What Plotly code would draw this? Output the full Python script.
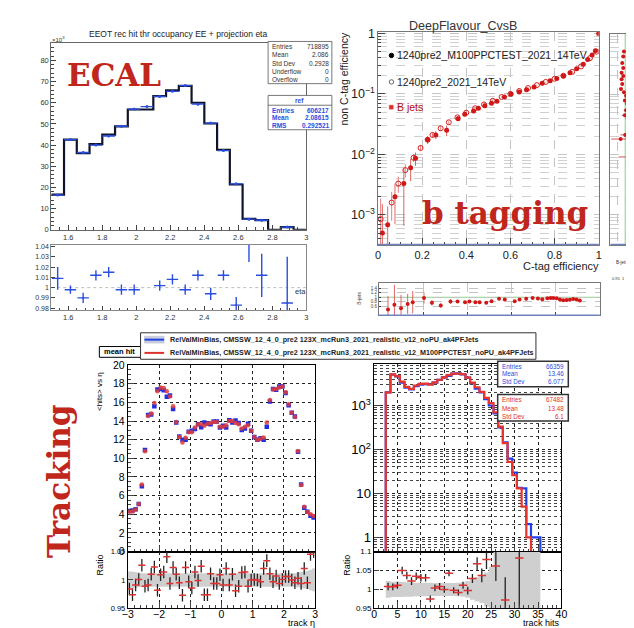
import numpy as np
import plotly.graph_objects as go

W, H = 634, 628
def px(x): return x / W
def py(y): return 1 - y / H

SANS = "Liberation Sans, Arial, Helvetica, sans-serif"
SERIF = "DejaVu Serif, serif"
RED_TXT = "#c0261b"
BLUE = "#2a4ee0"
RED = "#e0302a"

# ---------------- ECAL ----------------
ecal_range = [1.5, 3.0]
ecal_new = [16.6, 42.6, 36.2, 40.5, 44.9, 48.8, 56.8, 56.8, 63.1, 65.8, 68.0, 60.0, 50.2, 37.8, 21.4, 5.2, 4.6, 0.0, 1.3, 0.0]
ecal_ref = [16.4, 42.6, 36.5, 40.0, 44.3, 48.9, 57.0, 58.2, 63.0, 65.4, 68.1, 59.3, 50.4, 37.4, 21.7, 5.0, 4.5, None, 1.3, None]
ecal_ratio = [1.009, 0.998, 0.990, 1.012, 1.015, 0.998, 0.998, 0.972, 1.002, 1.008, 0.998, 1.012, 0.994, 1.012, 0.983, 1.050, 1.012, None, 0.985, None]
ecal_ratio_err = [0.011, 0.004, 0.005, 0.005, 0.005, 0.005, 0.005, 0.006, 0.005, 0.005, 0.005, 0.005, 0.006, 0.005, 0.008, 0.025, 0.021, None, 0.045, None]
ecal_xticks = [1.6, 1.8, 2.0, 2.2, 2.4, 2.6, 2.8, 3.0]
ecal_rticks = [0.98, 0.99, 1.0, 1.01, 1.02, 1.03, 1.04]
ecal_stats = [("Entries", "718895"), ("Mean", "2.086"), ("Std Dev", "0.2928"), ("Underflow", "0"), ("Overflow", "0")]
ecal_ref_stats = [("Entries", "606217"), ("Mean", "2.08615"), ("RMS", "0.292521")]

# ---------------- b tagging ----------------
btag_x_new = [0.020, 0.044, 0.077, 0.117, 0.148, 0.170, 0.225, 0.262, 0.311, 0.363, 0.393, 0.433, 0.455, 0.484, 0.514, 0.539,
              0.573, 0.603, 0.640, 0.673, 0.707, 0.744, 0.780, 0.810, 0.840, 0.870, 0.900, 0.930, 0.950, 0.970, 0.985, 1.0]
btag_y_new = [5.0e-4, 6.9e-4, 2.0e-3, 3.3e-3, 6.0e-3, 8.6e-3, 0.0175, 0.021, 0.025, 0.039, 0.046, 0.052, 0.058, 0.064, 0.070, 0.076,
              0.089, 0.100, 0.108, 0.117, 0.130, 0.150, 0.165, 0.180, 0.198, 0.225, 0.260, 0.310, 0.370, 0.440, 0.520, 1.0]
btag_err_new = [2.0, 1.0, 0.65, 0.8, 0.4, 0.25, 0.15, 0.15, 0.2, 0.08, 0.07, 0.06, 0.05, 0.05, 0.05, 0.05,
                0.04, 0.04, 0.04, 0.04, 0.03, 0.03, 0.03, 0.03, 0.03, 0.02, 0.02, 0.02, 0.02, 0.02, 0.02, 0.0]
btag_x_ref = [0.012, 0.062, 0.092, 0.124, 0.161, 0.193, 0.225, 0.247, 0.284, 0.321, 0.36, 0.40, 0.44, 0.48, 0.52, 0.56,
              0.60, 0.64, 0.68, 0.72, 0.76, 0.80, 0.84, 0.88, 0.92, 0.96, 0.99]
btag_y_ref = [8.5e-4, 1.6e-3, 3.3e-3, 5.5e-3, 8.8e-3, 0.0128, 0.0175, 0.021, 0.027, 0.034, 0.041, 0.049, 0.058, 0.067, 0.077, 0.089,
              0.100, 0.112, 0.125, 0.140, 0.158, 0.178, 0.200, 0.232, 0.285, 0.390, 0.500]
btag_err_ref = [1.2, 0.5, 0.3, 0.25, 0.15, 0.12, 0.1, 0.1, 0.08, 0.07, 0.05, 0.05, 0.04, 0.04, 0.04, 0.03,
                0.03, 0.03, 0.03, 0.02, 0.02, 0.02, 0.02, 0.02, 0.02, 0.02, 0.02]
btag_ratio_x = [0.041, 0.070, 0.100, 0.130, 0.153, 0.204, 0.240, 0.280, 0.324, 0.356, 0.390, 0.410, 0.437, 0.456, 0.486, 0.510,
                0.544, 0.570, 0.615, 0.637, 0.667, 0.696, 0.720, 0.740, 0.763, 0.778, 0.790, 0.805, 0.820, 0.835, 0.850,
                0.865, 0.880, 0.895, 0.910]
btag_ratio_y = [0.45, 0.66, 0.51, 0.70, 0.78, 0.97, 0.75, 0.63, 0.81, 0.81, 0.78, 0.81, 0.78, 0.78, 0.75, 0.82,
                0.93, 0.90, 0.82, 0.90, 0.93, 0.97, 0.94, 0.91, 0.96, 0.97, 0.97, 0.96, 0.90, 0.87, 0.88,
                0.89, 0.92, 0.90, 0.86]
btag_ratio_err = [0.6, 0.9, 0.6, 0.45, 0.5, 0.25, 0.12, 0.1, 0.1, 0.06, 0.05, 0.05, 0.05, 0.04, 0.04, 0.04,
                  0.04, 0.04, 0.03, 0.03, 0.03, 0.03, 0.03, 0.03, 0.02, 0.02, 0.02, 0.02, 0.02, 0.02, 0.02,
                  0.02, 0.02, 0.02, 0.02]
cut_eff = [0.505, 0.419, 0.327, 0.271, 0.225, 0.199, 0.175, 0.146, 0.121, 0.107, 0.094, 0.078, 0.069, 0.061, 0.054,
           0.050, 0.0446, 0.039, 0.0211, 0.018, 0.0211, 0.0091]
cut_ratio = [0.992, 0.9875, 0.981, 0.9875, 0.977, 0.9875, 0.977, 0.981, 0.973, 0.992, 1.006, 0.998, 1.0125, 1.023, 1.006,
             1.033, 0.998, 1.019, 1.0, 0.971, 1.044, 1.029]
cut_err = [0.005, 0.005, 0.006, 0.006, 0.007, 0.007, 0.008, 0.008, 0.01, 0.01, 0.012, 0.012, 0.015, 0.015, 0.015,
           0.02, 0.02, 0.02, 0.03, 0.06, 0.03, 0.07]

# ---------------- Tracking: hits vs eta ----------------
eta_range = [-3.0, 3.0]
eta_red = [4.3, 4.3, 4.5, 5.1, 7.2, 10.75, 14.55, 14.8, 15.95, 17.2, 17.6, 17.55, 17.2, 16.65, 15.6, 13.9, 12.3, 11.7, 12.2, 12.8,
           12.8, 13.3, 13.65, 13.65, 13.5, 13.7, 13.8, 13.9, 13.9, 13.4, 13.4, 13.55, 14.0, 14.0, 13.8, 13.65, 13.2, 13.4, 13.55, 12.95,
           12.3, 12.0, 12.1, 12.25, 13.85, 16.25, 17.4, 17.45, 17.6, 17.7, 17.1, 15.8, 14.9, 14.45, 10.75, 7.15, 4.8, 4.25, 4.0, 3.8]
eta_blue = [4.35, 4.4, 4.55, 5.1, 7.0, 10.9, 14.65, 14.7, 15.6, 17.4, 17.45, 17.3, 16.6, 16.75, 15.3, 13.85, 12.35, 12.0, 12.0, 12.85,
            12.95, 13.15, 13.65, 13.35, 13.85, 13.75, 13.65, 13.95, 13.95, 13.3, 13.5, 13.3, 14.1, 13.85, 14.05, 13.8, 13.05, 13.2, 13.7, 12.95,
            12.3, 12.0, 12.15, 12.0, 13.4, 16.1, 17.45, 17.35, 17.7, 17.7, 17.0, 15.7, 14.9, 14.5, 10.72, 7.2, 4.7, 4.27, 3.83, 3.65]
eta_ratio = [0.984, 0.974, 0.991, 1.001, 1.026, 0.989, 0.991, 1.010, 1.023, 0.982, 1.009, 1.014, 1.041, 0.994, 1.022, 1.010, 0.995, 0.973, 1.022, 0.997,
             0.986, 1.014, 0.999, 1.024, 0.974, 0.974, 1.011, 0.994, 0.994, 1.009, 0.991, 1.020, 0.991, 1.010, 0.981, 0.989, 1.013, 1.014, 0.989, 1.000,
             1.001, 1.000, 0.997, 1.020, 1.034, 1.011, 0.997, 1.007, 0.994, 1.001, 1.006, 1.006, 1.000, 0.995, 1.003, 0.994, 1.020, 0.995, 1.045, 1.050]
eta_band = [0.015, 0.015, 0.014, 0.013, 0.012, 0.012, 0.012, 0.012, 0.012, 0.012, 0.012, 0.012, 0.012, 0.012, 0.012, 0.012, 0.012, 0.012, 0.012, 0.012,
            0.012, 0.012, 0.012, 0.012, 0.012, 0.012, 0.012, 0.012, 0.012, 0.012, 0.012, 0.012, 0.012, 0.012, 0.012, 0.012, 0.012, 0.012, 0.012, 0.012,
            0.012, 0.012, 0.012, 0.012, 0.012, 0.012, 0.012, 0.012, 0.012, 0.012, 0.012, 0.012, 0.012, 0.012, 0.013, 0.014, 0.015, 0.016, 0.018, 0.02]

# ---------------- Tracking: track hits ----------------
hits_first_bin = 3
hits_red = [2000, 5100, 4650, 3500, 2650, 2380, 2850, 3100, 3150, 3000, 3350, 3850, 4350, 4900, 5300, 5350, 5150, 4300, 3300,
            2600, 2050, 1500, 1130, 700, 330, 140, 52, 26, 13, 5, 1, 0, 0]
hits_blue = [1985, 5060, 4600, 3330, 2560, 2330, 2750, 3000, 3050, 3080, 3330, 3820, 4350, 4700, 5310, 5390, 5090, 4310, 3210,
             2430, 1980, 1390, 1000, 660, 320, 145, 62, 30, 13.5, 13, 2, 1, 1]
hits_ratio_x = [3, 4, 5, 6, 7, 8, 9, 10, 11, 12, 13, 14, 15, 16, 17, 18, 19, 20, 21, 22, 23, 24, 26, 28, 31]
hits_ratio_y = [1.008, 1.007, 1.011, 1.050, 1.037, 1.022, 1.035, 1.031, 1.031, 0.975, 1.004, 1.008, 1.000, 1.043, 0.998, 0.992,
                1.011, 0.997, 1.029, 1.068, 1.037, 1.079, 1.062, 0.972, 1.083]
hits_ratio_err = [0.010, 0.009, 0.009, 0.010, 0.010, 0.010, 0.010, 0.010, 0.010, 0.009, 0.009, 0.009, 0.009, 0.008, 0.008, 0.008,
                  0.009, 0.010, 0.012, 0.017, 0.018, 0.025, 0.040, 0.060, 0.150]
hits_band = [0.022, 0.020, 0.020, 0.020, 0.019, 0.019, 0.018, 0.018, 0.018, 0.017, 0.017, 0.017, 0.017, 0.017, 0.017, 0.018, 0.019,
             0.022, 0.027, 0.032, 0.036, 0.045, 0.06, 0.1, 0.1, 0.1, 0.1, 0.1, 0.1, 0.1, 0.1, 0.1, 0.1]
hits_stats_blue = [("Entries", "66359"), ("Mean", "13.46"), ("Std Dev", "6.077")]
hits_stats_red = [("Entries", "67482"), ("Mean", "13.48"), ("Std Dev", "6.1")]
legend_labels = ["RelValMinBias, CMSSW_12_4_0_pre2 123X_mcRun3_2021_realistic_v12_noPU_ak4PFJets",
                 "RelValMinBias, CMSSW_12_4_0_pre2 123X_mcRun3_2021_realistic_v12_M100PPCTEST_noPU_ak4PFJets"]

fig = go.Figure()

# ECAL traces
ecal_edges = np.linspace(ecal_range[0], ecal_range[1], len(ecal_new) + 1)
ecal_centers = (ecal_edges[:-1] + ecal_edges[1:]) / 2
ecal_half = (ecal_edges[1] - ecal_edges[0]) / 2
fig.add_trace(go.Scatter(x=ecal_edges, y=ecal_new + [ecal_new[-1]], mode="lines",
                         line=dict(shape="hv", color="#10142a", width=2.2), xaxis="x", yaxis="y"))
fig.add_trace(go.Scatter(x=ecal_centers, y=ecal_ref, mode="markers", marker=dict(size=3, color=BLUE),
                         error_x=dict(type="constant", value=ecal_half, color=BLUE, thickness=1.3, width=0),
                         error_y=dict(type="constant", value=0.4, color=BLUE, thickness=1, width=0),
                         xaxis="x", yaxis="y"))
fig.add_trace(go.Scatter(x=ecal_centers, y=ecal_ratio, mode="markers", marker=dict(size=2, color=BLUE),
                         error_x=dict(type="constant", value=ecal_half * 0.9, color=BLUE, thickness=1.4, width=0),
                         error_y=dict(type="data", array=ecal_ratio_err, color=BLUE, thickness=1.4, width=0),
                         xaxis="x2", yaxis="y2"))

# b tagging traces
ynew = np.array(btag_y_new); enew = np.array(btag_err_new)
fig.add_trace(go.Scatter(x=btag_x_ref, y=btag_y_ref, mode="markers",
                         marker=dict(symbol="circle-open", size=5, color="#d42020", line=dict(width=1)),
                         error_y=dict(type="data", array=list(np.array(btag_y_ref) * np.array(btag_err_ref)),
                                      arrayminus=list(np.array(btag_y_ref) * np.minimum(np.array(btag_err_ref), 0.97)),
                                      color="#e06060", thickness=0.8, width=0),
                         xaxis="x3", yaxis="y3"))
fig.add_trace(go.Scatter(x=btag_x_new, y=btag_y_new, mode="markers",
                         marker=dict(symbol="circle", size=5, color="#d01818"),
                         error_y=dict(type="data", array=list(ynew * enew), arrayminus=list(ynew * np.minimum(enew, 0.97)),
                                      color="#d84040", thickness=0.8, width=0),
                         error_x=dict(type="constant", value=0.008, color="#d84040", thickness=0.8, width=0),
                         xaxis="x3", yaxis="y3"))
fig.add_trace(go.Scatter(x=btag_ratio_x, y=btag_ratio_y, mode="markers", marker=dict(size=4, color="#d01818"),
                         error_y=dict(type="data", array=btag_ratio_err, color="#d84040", thickness=0.8, width=0),
                         xaxis="x4", yaxis="y4"))
fig.add_trace(go.Scatter(x=cut_ratio, y=cut_eff, mode="markers", marker=dict(size=4, color="#d01818"),
                         error_x=dict(type="data", array=cut_err, color="#e05050", thickness=1, width=0),
                         xaxis="x5", yaxis="y5"))

# Tracking eta traces
eta_edges = np.linspace(eta_range[0], eta_range[1], len(eta_red) + 1)
eta_centers = (eta_edges[:-1] + eta_edges[1:]) / 2
eta_b = np.array(eta_band)
fig.add_trace(go.Scatter(x=eta_edges, y=list(1 - eta_b) + [1 - eta_b[-1]], mode="lines", line=dict(shape="hv", width=0, color="#c8c8c8"),
                         xaxis="x7", yaxis="y7"))
fig.add_trace(go.Scatter(x=eta_edges, y=list(1 + eta_b) + [1 + eta_b[-1]], mode="lines", line=dict(shape="hv", width=0, color="#c8c8c8"),
                         fill="tonexty", fillcolor="#cfcfcf", xaxis="x7", yaxis="y7"))
fig.add_trace(go.Scatter(x=eta_centers, y=eta_blue, mode="markers", marker=dict(symbol="square", size=4.5, color="#2030e0"),
                         xaxis="x6", yaxis="y6"))
fig.add_trace(go.Scatter(x=eta_centers, y=eta_red, mode="markers", marker=dict(symbol="circle", size=4.5, color="#e03a3a", opacity=0.85),
                         xaxis="x6", yaxis="y6"))
fig.add_trace(go.Scatter(x=eta_centers, y=eta_ratio, mode="markers",
                         marker=dict(symbol="line-ew", size=5, line=dict(color="#e03030", width=1.5)),
                         error_y=dict(type="constant", value=0.011, color="#222", thickness=1.3, width=0),
                         xaxis="x7", yaxis="y7", cliponaxis=True))

# Tracking hits traces
nb = len(hits_red)
hits_edges = np.arange(hits_first_bin - 0.5, hits_first_bin + nb + 0.5, 1.0)
def logsafe(v): return [x if x > 0 else 1e-3 for x in v]
hb = np.array(hits_band)
fig.add_trace(go.Scatter(x=hits_edges, y=list(1 - hb) + [1 - hb[-1]], mode="lines", line=dict(shape="hv", width=0, color="#c8c8c8"),
                         xaxis="x9", yaxis="y9"))
fig.add_trace(go.Scatter(x=hits_edges, y=list(1 + hb) + [1 + hb[-1]], mode="lines", line=dict(shape="hv", width=0, color="#c8c8c8"),
                         fill="tonexty", fillcolor="#cfcfcf", xaxis="x9", yaxis="y9"))
fig.add_trace(go.Scatter(x=[hits_edges[0]] + list(hits_edges), y=[1e-3] + logsafe(hits_blue) + [1e-3], mode="lines",
                         line=dict(shape="hv", color="#1f3ff0", width=2.2), xaxis="x8", yaxis="y8"))
fig.add_trace(go.Scatter(x=[hits_edges[0]] + list(hits_edges), y=[1e-3] + logsafe(hits_red) + [1e-3], mode="lines",
                         line=dict(shape="hv", color="#e8342c", width=2.2), xaxis="x8", yaxis="y8"))
fig.add_trace(go.Scatter(x=hits_ratio_x, y=hits_ratio_y, mode="markers",
                         marker=dict(symbol="line-ew", size=6, line=dict(color="#e03030", width=1.5)),
                         error_y=dict(type="data", array=hits_ratio_err, color="#222", thickness=1.3, width=0),
                         xaxis="x9", yaxis="y9"))

# -------- axes --------
def ax(domain, rng, anchor, **kw):
    d = dict(domain=domain, range=rng, anchor=anchor, showline=True, mirror=True, linecolor="black", linewidth=1,
             ticks="inside", showgrid=False, zeroline=False,
             tickfont=dict(family=SANS, size=10, color="black"))
    d.update(kw)
    return d

dotgrid = dict(showgrid=True, gridcolor="#222", griddash="dot", gridwidth=1)
dashgrid = dict(showgrid=True, gridcolor="#c4c4c4", griddash="dash", gridwidth=0.8)

layout = dict(
    width=W, height=H, margin=dict(l=0, r=0, t=0, b=0, pad=0),
    paper_bgcolor="white", plot_bgcolor="white", showlegend=False,
    xaxis=ax([px(38), px(298)], ecal_range, "y", tickmode="array", tickvals=ecal_xticks, ticklen=5, linecolor="#666",
             tickfont=dict(family=SANS, size=7.5, color="#333"), minor=dict(dtick=0.05, tick0=1.5, ticklen=3, ticks="inside")),
    yaxis=ax([py(220), py(30)], [0, 88], "x", dtick=10, tick0=0, ticklen=5, linecolor="#666",
             tickfont=dict(family=SANS, size=7.5, color="#333"), minor=dict(dtick=2, ticklen=3, ticks="inside")),
    xaxis2=ax([px(38), px(298)], ecal_range, "y2", tickmode="array", tickvals=ecal_xticks, ticklen=4, linecolor="#888",
              tickfont=dict(family=SANS, size=7.5, color="#333"), minor=dict(dtick=0.05, tick0=1.5, ticklen=2, ticks="inside")),
    yaxis2=ax([py(302), py(235)], [0.978, 1.042], "x2", tickmode="array", tickvals=ecal_rticks, ticklen=4, linecolor="#888",
              tickfont=dict(family=SANS, size=7, color="#333")),
    xaxis3=ax([px(371), px(596)], [0, 1], "y3", dtick=0.2, ticklen=7, linecolor="#777",
              tickfont=dict(family=SANS, size=11, color="#222"), minor=dict(dtick=0.05, ticklen=3, ticks="inside"), **dashgrid),
    yaxis3=ax([py(235), py(18)], [-3.49, 0.03], "x3", type="log", dtick=1, exponentformat="power", ticklen=7, linecolor="#777",
              tickfont=dict(family=SANS, size=10, color="#222"),
              minor=dict(dtick="D1", ticklen=3, ticks="inside", showgrid=True, gridcolor="#d0d0d0", griddash="dash", gridwidth=0.7),
              **dashgrid),
    xaxis4=ax([px(372), px(597)], [0, 1], "y4", dtick=0.2, showticklabels=False, ticklen=3, linecolor="#777", **dashgrid),
    yaxis4=ax([py(307), py(274)], [0.2, 1.65], "x4", tickmode="array", tickvals=[0.6, 0.8, 1.0, 1.2, 1.4], ticklen=2,
              linecolor="#777", tickfont=dict(family=SANS, size=4.5, color="#444"), **dashgrid),
    xaxis5=ax([px(608), 1.0], [0.906, 1.069], "y5", dtick=0.05, showticklabels=False, ticks="", linecolor="#777", **dashgrid),
    yaxis5=ax([py(235), py(20)], [-3.49, 0.0], "x5", type="log", dtick=1, showticklabels=False, ticks="", mirror=False,
              linecolor="#777", minor=dict(dtick="D1", showgrid=True, gridcolor="#d0d0d0", griddash="dash", gridwidth=0.7), **dashgrid),
    xaxis6=ax([px(116), px(307)], eta_range, "y6", dtick=1, showticklabels=False, ticklen=6,
              minor=dict(dtick=0.2, ticklen=3, ticks="inside"), **dotgrid),
    yaxis6=ax([py(548), py(358)], [0, 20], "x6", dtick=2, ticklen=6, tickfont=dict(family=SANS, size=10.5, color="black"),
              minor=dict(dtick=0.5, ticklen=3, ticks="inside"), **dotgrid),
    xaxis7=ax([px(116), px(307)], eta_range, "y7", dtick=1, ticklen=6, tickfont=dict(family=SANS, size=10.5, color="black"),
              ticklabelstandoff=-4, minor=dict(dtick=0.2, ticklen=3, ticks="inside"), **dotgrid),
    yaxis7=ax([py(606), py(548)], [0.95, 1.05], "x7", tickmode="array", tickvals=[0.95, 1.0, 1.05], ticktext=["0.95", "1", "1.05"],
              ticklen=5, tickfont=dict(family=SANS, size=7.5, color="black"), **dotgrid),
    xaxis8=ax([px(367), px(558)], [0, 40], "y8", dtick=5, showticklabels=False, ticklen=6,
              minor=dict(dtick=1, ticklen=3, ticks="inside"), **dotgrid),
    yaxis8=ax([py(548), py(357)], [-0.32, 3.94], "x8", type="log", dtick=1, exponentformat="power", ticklen=6,
              tickfont=dict(family=SANS, size=10.5, color="black"),
              minor=dict(dtick="D1", ticklen=3, ticks="inside", showgrid=True, gridcolor="#444", griddash="dot", gridwidth=0.8),
              **dotgrid),
    xaxis9=ax([px(367), px(558)], [0, 40], "y9", dtick=5, ticklen=6, tickfont=dict(family=SANS, size=10.5, color="black"),
              ticklabelstandoff=-4, minor=dict(dtick=1, ticklen=3, ticks="inside"), **dotgrid),
    yaxis9=ax([py(606), py(548)], [0.95, 1.1], "x9", tickmode="array", tickvals=[0.95, 1.0, 1.05, 1.1],
              ticktext=["0.95", "1", "1.05", "1.1"], ticklen=5, tickfont=dict(family=SANS, size=8, color="black"), **dotgrid),
)

# -------- annotations & shapes --------
ann = []
shp = []
def txt(x, y, s, size=10, color="black", xa="left", ya="middle", family=SANS, angle=0):
    ann.append(dict(x=px(x), y=py(y), xref="paper", yref="paper", text=s, showarrow=False, xanchor=xa, yanchor=ya,
                    textangle=angle, borderpad=0, font=dict(family=family, size=size, color=color)))
def rect(x0, y0, x1, y1, line="black", fill="white", w=1):
    shp.append(dict(type="rect", xref="paper", yref="paper", x0=px(x0), x1=px(x1), y0=py(y1), y1=py(y0),
                    line=dict(color=line, width=w), fillcolor=fill, layer="above"))
def hline(x0, x1, y, color, w=1):
    shp.append(dict(type="line", xref="paper", yref="paper", x0=px(x0), x1=px(x1), y0=py(y), y1=py(y),
                    line=dict(color=color, width=w), layer="above"))

# ECAL
txt(167, 20, "EEOT rec hit thr occupancy EE + projection eta", size=8.5, color="#222", xa="center")
txt(38, 31, "×10<sup>3</sup>", size=6, color="#333", xa="left", ya="bottom")
txt(53, 62, "<b>ECAL</b>", size=31, color=RED_TXT, family=SERIF)
rect(259, 28, 324, 71, line="#555", w=0.8)
for i, (k, v) in enumerate(ecal_stats):
    txt(262, 33 + 8.5 * i, k, size=6.5, color="#333")
    txt(322, 33 + 8.5 * i, v, size=6.5, color="#333", xa="right")
rect(259, 83, 324, 118, line="#555", w=0.8)
hline(259, 324, 93, "#555", 0.8)
txt(291, 88, "<b>ref</b>", size=6.5, color=BLUE, xa="center")
for i, (k, v) in enumerate(ecal_ref_stats):
    txt(262, 98 + 8 * i, "<b>" + k + "</b>", size=6.5, color=BLUE)
    txt(322, 98 + 8 * i, "<b>" + v + "</b>", size=6.5, color=BLUE, xa="right")
txt(292, 283, "eta", size=7.5, color="#333", xa="center")
shp.append(dict(type="line", xref="x2 domain", yref="y2", x0=0, x1=1, y0=1, y1=1,
                line=dict(color="#bbbbbb", width=1, dash="dot"), layer="below"))

# b tagging
txt(458, 12, "DeepFlavour_CvsB", size=12.5, color="#333", xa="center")
txt(336, 66, "non C-tag efficiency", size=10.5, color="#222", xa="center", angle=-90)
txt(597, 257, "C-tag efficiency", size=11, color="#222", xa="right")
shp.append(dict(type="circle", xref="paper", yref="paper", x0=px(382.5), x1=px(387), y0=py(44.5), y1=py(40),
                fillcolor="black", line=dict(color="black", width=1), layer="above"))
txt(389, 42, "1240pre2_M100PPCTEST_2021_14TeV", size=10.5, color="#222")
shp.append(dict(type="circle", xref="paper", yref="paper", x0=px(382.5), x1=px(387), y0=py(71.5), y1=py(67),
                fillcolor="white", line=dict(color="#444", width=0.8), layer="above"))
txt(389, 69, "1240pre2_2021_14TeV", size=10.5, color="#222")
rect(382.5, 93, 386.5, 97, line=RED, fill=RED, w=0.5)
txt(389, 95, "B jets", size=10.5, color="#b01010")
txt(500, 203, "<b>b tagging</b>", size=31, color=RED_TXT, family=SERIF, xa="center")
txt(352, 290, "B-jets", size=5, color="#333", xa="center", angle=-90)
shp.append(dict(type="line", xref="x4 domain", yref="y4", x0=0, x1=1, y0=1, y1=1,
                line=dict(color="#8fd08f", width=1), layer="below"))
shp.append(dict(type="line", xref="x5", yref="y5 domain", x0=1, x1=1, y0=0, y1=1,
                line=dict(color="#8fd08f", width=1), layer="below"))
hline(371, 596, 235, "#6f82c0", 1.5)
hline(372, 597, 307, "#6f82c0", 1.5)
hline(608, 634, 235, "#6f82c0", 1.5)
txt(613, 253, "B-jets", size=4.5, color="#333")
txt(609, 270, "0.95  1  1.05", size=4, color="#333")

# Tracking eta
txt(46, 476, "<b>Tracking</b>", size=31, color=RED_TXT, family=SERIF, xa="center", angle=-90)
txt(87, 385, "&lt;hits&gt; vs η", size=8, color="black", xa="center", angle=-90)
txt(88, 562, "Ratio", size=9, color="black", xa="center", angle=-90)
txt(308, 621, "track η", size=9, color="black", xa="right")
rect(87, 339, 131, 350, line="black", w=1)
txt(91, 344.5, "<b>mean hit</b>", size=7.5, color="black")
rect(129, 325, 532, 352, line="#333", w=1)
rect(133, 328.5, 153, 335.5, line="#b8bccc", fill="#c9cde0", w=0.5)
hline(133, 153, 332, "#2040e0", 2)
hline(133, 153, 345.5, "#e03030", 2)
txt(158, 332, "<b>" + legend_labels[0] + "</b>", size=7.2, color="#222")
txt(158, 345.5, "<b>" + legend_labels[1] + "</b>", size=7.2, color="#222")

# Tracking hits
txt(340, 562, "Ratio", size=9, color="black", xa="center", angle=-90)
txt(558, 621, "track hits", size=9, color="black", xa="right")
rect(493, 354, 565, 380, line="#333", w=1.5)
for i, (k, v) in enumerate(hits_stats_blue):
    txt(496, 359 + 8 * i, k, size=6.3, color=BLUE)
    txt(562, 359 + 8 * i, v, size=6.3, color=BLUE, xa="right")
rect(493, 388, 565, 415, line="#333", w=1.5)
for i, (k, v) in enumerate(hits_stats_red):
    txt(496, 393.5 + 8.3 * i, k, size=6.3, color=RED)
    txt(562, 393.5 + 8.3 * i, v, size=6.3, color=RED, xa="right")

layout["annotations"] = ann
layout["shapes"] = shp
fig.update_layout(**layout)
fig.write_html("out.html")
